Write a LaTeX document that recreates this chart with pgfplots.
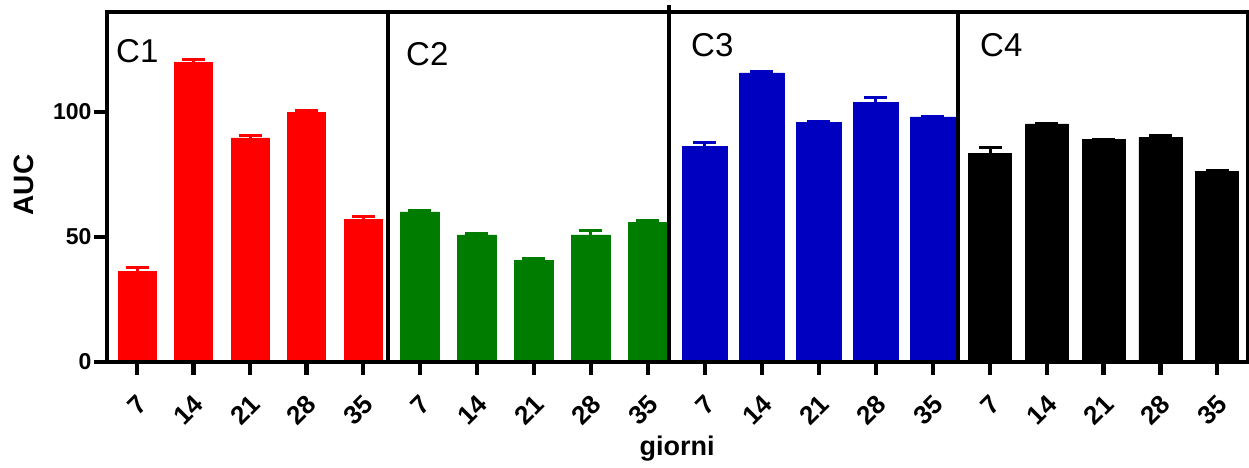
\documentclass[border=0pt]{standalone}
\usepackage{pgfplots}
\pgfplotsset{compat=1.18}
\usepackage{fontspec}
\setmainfont{Liberation Sans}

\definecolor{cred}{RGB}{255,0,0}
\definecolor{cgreen}{RGB}{0,125,0}
\definecolor{cblue}{RGB}{0,0,192}
\definecolor{cblack}{RGB}{0,0,0}

% AUC per day (mean and upper error)
\pgfplotstableread{
x y e
1 36.3 1.6
2 120.0 1.0
3 89.7 1.0
4 100.0 0.8
5 57.2 1.2
}\dataA
\pgfplotstableread{
x y e
1 60.1 0.4
2 50.9 0.7
3 40.6 1.0
4 50.9 1.9
5 56.0 0.5
}\dataB
\pgfplotstableread{
x y e
1 86.4 1.4
2 115.7 0.4
3 96.0 0.4
4 103.9 2.1
5 98.1 0.3
}\dataC
\pgfplotstableread{
x y e
1 83.4 2.4
2 95.3 0.3
3 89.0 0.2
4 89.9 0.8
5 76.3 0.4
}\dataD

\pgfplotsset{
  panel/.style={
    anchor=south west,
    scale only axis,
    height=350pt,
    ymin=0, ymax=140,
    axis on top,
    axis line style={line width=4pt},
    xtick={1,2,3,4,5},
    xticklabels={7,14,21,28,35},
    tick pos=left,
    tick align=outside,
    major tick length=12pt,
    tick style={draw=none},
    /pgf/number format/assume math mode=true,
    yticklabel style={font=\fontsize{23}{26}\selectfont\bfseries},
    xticklabel style={font=\fontsize{26}{28}\selectfont\bfseries,
      rotate=45, anchor=east, xshift=-11pt, yshift=-22pt},
    clip=false,
  },
  bars/.style={
    ybar, bar width=#1, line width=0.5pt,
  },
}

\newcommand{\barplot}[3]{%
  \addplot[bars=#3, fill=#2, draw=#2,
    error bars/.cd, y dir=plus, y explicit,
    error bar style={line width=3pt, draw=#2},
    error mark options={rotate=90, mark size=11.5pt, line width=3pt, draw=#2}]
    table[x=x, y=y, y error=e] {#1};
}
% outward tick marks under the day axis
\newcommand{\dayticks}{%
  \pgfplotsinvokeforeach{1,2,3,4,5}{%
    \draw[line width=4.5pt, black] (axis cs:##1,0) -- ++(0pt,-13pt);}%
}

\begin{document}
\begin{tikzpicture}
\useasboundingbox (0pt,0pt) rectangle (1249pt,467pt);

% C1
\begin{axis}[panel, at={(107pt,105pt)}, width=281pt,
  xmin=0.469, xmax=5.44,
  ytick={0,50,100}]
\barplot{\dataA}{cred}{38pt}
\dayticks
\pgfplotsinvokeforeach{0,50,100}{%
  \draw[line width=4.5pt, black] (rel axis cs:0,#1/140) -- ++(-13pt,0pt);}
\end{axis}

% C2
\begin{axis}[panel, at={(388pt,105pt)}, width=281pt,
  xmin=0.44, xmax=5.37, ytick=\empty]
\barplot{\dataB}{cgreen}{39pt}
\dayticks
\end{axis}

% C3
\begin{axis}[panel, at={(669pt,105pt)}, width=289pt,
  xmin=0.37, xmax=5.44, ytick=\empty]
\barplot{\dataC}{cblue}{45pt}
\dayticks
\draw[line width=4pt] (rel axis cs:0,1) -- ++(0pt,7pt);
\end{axis}

% C4
\begin{axis}[panel, at={(958pt,105pt)}, width=290pt,
  xmin=0.436, xmax=5.546, ytick=\empty]
\barplot{\dataD}{cblack}{43pt}
\dayticks
\end{axis}

% panel names
\node[anchor=base west, font=\fontsize{33}{36}\selectfont, inner sep=0pt] at (116pt,404pt) {C1};
\node[anchor=base west, font=\fontsize{33}{36}\selectfont, inner sep=0pt] at (406pt,402pt) {C2};
\node[anchor=base west, font=\fontsize{33}{36}\selectfont, inner sep=0pt] at (691pt,410pt) {C3};
\node[anchor=base west, font=\fontsize{33}{36}\selectfont, inner sep=0pt] at (980pt,410pt) {C4};

% axis titles
\node[rotate=90, font=\fontsize{28}{30}\selectfont\bfseries] at (24pt,282pt) {AUC};
\node[anchor=base, inner sep=0pt, font=\fontsize{27}{30}\selectfont\bfseries] at (677pt,12pt) {giorni};
\end{tikzpicture}
\end{document}
